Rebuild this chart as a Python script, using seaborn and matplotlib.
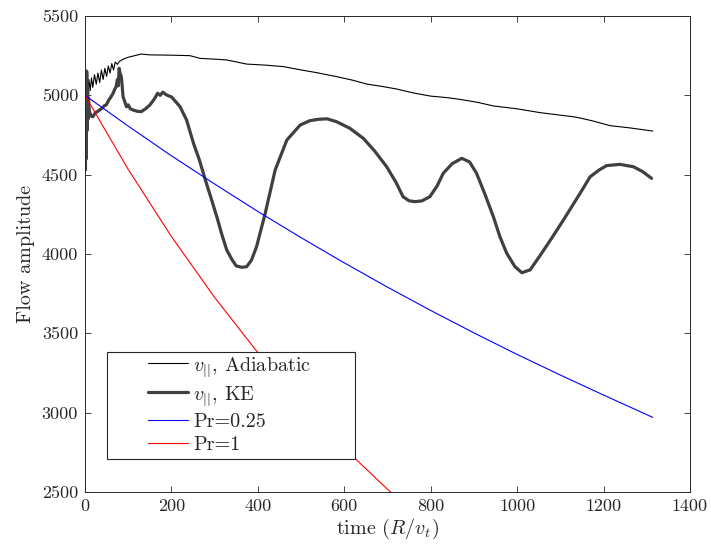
import numpy as np
import pandas as pd
import matplotlib
matplotlib.use("Agg")
import matplotlib.pyplot as plt
import matplotlib.patches as mpatches
import seaborn as sns

# ---------------- data ----------------
t_adi = [0, 2, 4, 6, 9, 12, 15, 18, 22, 26,
         30, 34, 38, 42, 46, 50, 54, 58, 62, 66,
         70, 75, 80, 90, 100, 115, 130, 150, 200, 243,
         266, 300, 328, 374, 420, 459, 500, 536, 582, 620,
         652, 690, 721, 760, 800, 840, 876, 910, 945, 1000,
         1053, 1100, 1130, 1146, 1176, 1215, 1260, 1314]
v_adi = [5000, 4950, 5160, 5000, 5100, 5030, 5110, 5050, 5130, 5070,
         5140, 5080, 5160, 5100, 5170, 5120, 5185, 5140, 5200, 5160,
         5210, 5195, 5215, 5230, 5240, 5250, 5260, 5255, 5253, 5250,
         5233, 5228, 5223, 5197, 5190, 5181, 5160, 5143, 5118, 5095,
         5071, 5055, 5040, 5015, 4995, 4985, 4971, 4955, 4933, 4915,
         4891, 4875, 4865, 4857, 4838, 4809, 4795, 4775]

t_ke = [0, 1, 2, 3, 4, 5, 6, 7, 8, 10,
        14, 18, 24, 30, 34, 40, 45, 49, 55, 60,
        65, 69, 72, 75, 77, 79, 81, 84, 86, 88,
        92, 96, 100, 105, 111, 120, 130, 140, 150, 160,
        168, 174, 180, 189, 200, 210, 220, 235, 251, 265,
        278, 292, 305, 317, 328, 340, 350, 363, 374, 385,
        397, 417, 440, 467, 498, 520, 540, 560, 582, 613,
        644, 670, 698, 720, 736, 750, 764, 780, 798, 815,
        829, 850, 872, 890, 906, 925, 945, 960, 976, 995,
        1011, 1030, 1053, 1080, 1107, 1146, 1169, 1190, 1207, 1238,
        1269, 1290, 1311]
v_ke = [5000, 4530, 5100, 4600, 5150, 4780, 5050, 4850, 4980, 4900,
        4870, 4865, 4890, 4900, 4908, 4920, 4935, 4939, 4970, 4990,
        5013, 5040, 5054, 5100, 5060, 5170, 5140, 5118, 5060, 4992,
        4960, 4928, 4940, 4915, 4908, 4900, 4897, 4915, 4939, 4975,
        5013, 5000, 5020, 5002, 4990, 4960, 4928, 4845, 4698, 4590,
        4471, 4350, 4235, 4120, 4025, 3965, 3925, 3916, 3920, 3960,
        4046, 4256, 4529, 4718, 4813, 4840, 4849, 4852, 4834, 4792,
        4729, 4650, 4550, 4450, 4361, 4335, 4330, 4335, 4361, 4430,
        4509, 4570, 4603, 4580, 4509, 4380, 4235, 4110, 4004, 3920,
        3882, 3900, 3990, 4100, 4214, 4384, 4487, 4530, 4557, 4565,
        4550, 4520, 4477]

t_pr025 = [0, 100, 200, 300, 400, 500, 600, 700, 800, 900, 1000, 1100, 1200, 1314]
v_pr025 = [5000, 4806, 4619, 4441, 4268, 4103, 3944, 3791, 3644, 3503, 3367, 3237, 3111, 2970]

t_pr1 = [0, 100, 200, 300, 400, 500, 600, 700, 800]
v_pr1 = [5000, 4533, 4110, 3726, 3378, 3062, 2776, 2517, 2282]

labels = [r"$v_{||}$, Adiabatic", r"$v_{||}$, KE", "Pr=0.25", "Pr=1"]
x_ticks = [0, 200, 400, 600, 800, 1000, 1200, 1400]
y_ticks = [2500, 3000, 3500, 4000, 4500, 5000, 5500]

# ---------------- style ----------------
sns.set_style("ticks")
plt.rcParams["font.family"] = ["cmr10", "DejaVu Serif"]
plt.rcParams["mathtext.fontset"] = "cm"
plt.rcParams["axes.formatter.use_mathtext"] = True
plt.rcParams["axes.unicode_minus"] = False
fs_tick = 13
fs_lab = 14.5
fs_leg = 14.5

fig = plt.figure(figsize=(7.11, 5.5), dpi=100)
ax = fig.add_axes([85 / 711, 58 / 550, 605 / 711, 476 / 550])

series = [
    (t_adi, v_adi, "black", 0.8),
    (t_ke, v_ke, "#404040", 2.3),
    (t_pr025, v_pr025, "#0000ff", 0.8),
    (t_pr1, v_pr1, "#ff0000", 0.8),
]
for (t, v, c, lw), lab in zip(series, labels):
    df = pd.DataFrame({"t": t, "v": v})
    sns.lineplot(data=df, x="t", y="v", ax=ax, color=c, linewidth=lw,
                 sort=False, estimator=None, label=lab)

ax.set_xlim(0, 1400)
ax.set_ylim(2500, 5500)
ax.set_xticks(x_ticks)
ax.set_yticks(y_ticks)
ax.set_xticklabels([str(x) for x in x_ticks], fontsize=fs_tick)
ax.set_yticklabels([str(y) for y in y_ticks], fontsize=fs_tick)
ax.tick_params(direction="in", top=True, right=True, length=4, width=0.6,
               color="#262626", pad=5)
for s in ax.spines.values():
    s.set_visible(True)
    s.set_color("#262626")
    s.set_linewidth(0.7)

ax.set_xlabel(r"time $(R/v_t)$", fontsize=fs_lab, labelpad=2)
ax.set_ylabel("Flow amplitude", fontsize=fs_lab, labelpad=5)

# legend: manual frame + frameless legend (MATLAB look)
rect = mpatches.Rectangle((22 / 605, 33 / 476), 248 / 605, 107 / 476,
                          transform=ax.transAxes, facecolor="white",
                          edgecolor="#262626", linewidth=0.8, zorder=4)
ax.add_patch(rect)
handles, labs = ax.get_legend_handles_labels()
leg = ax.legend(handles, labs, loc="upper left",
                bbox_to_anchor=(63 / 605, 137 / 476),
                frameon=False, fontsize=fs_leg, handlelength=2.0,
                handletextpad=0.25, borderpad=0, borderaxespad=0,
                labelspacing=0.25)
leg.set_zorder(5)

fig.savefig("out.png", dpi=100)
